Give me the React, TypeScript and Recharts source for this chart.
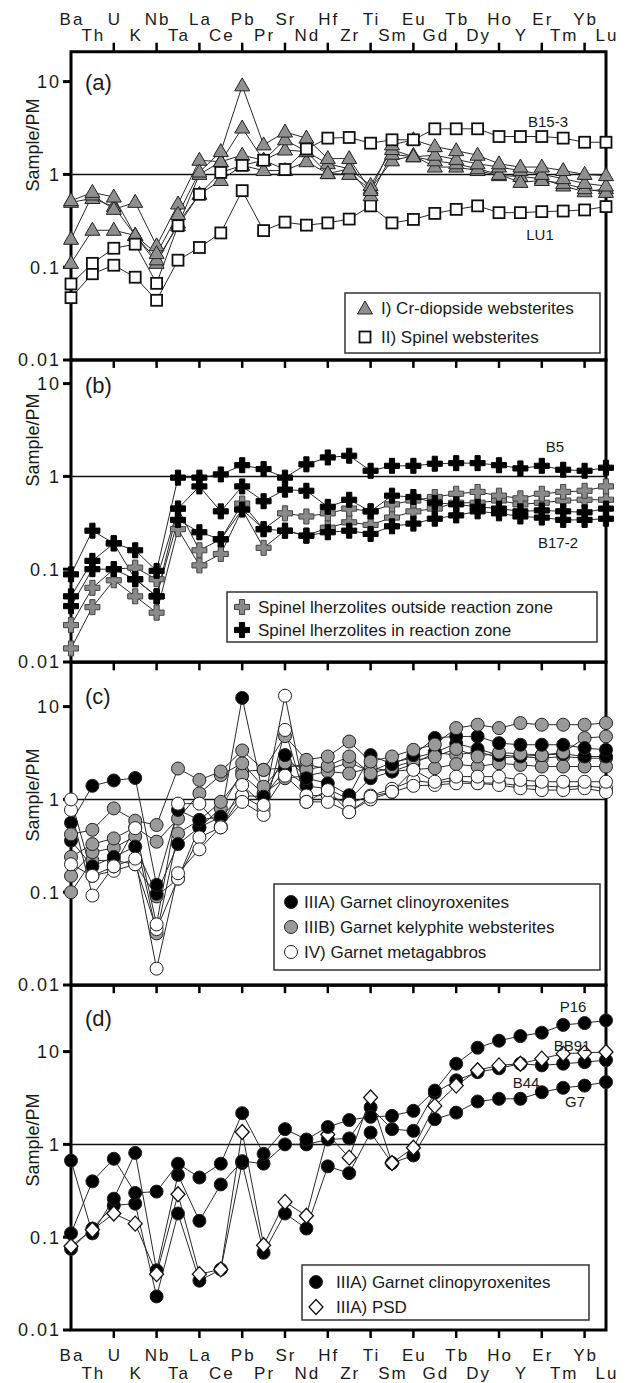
import React from 'react';
import { LineChart, Line, XAxis, YAxis, ReferenceLine, ReferenceArea } from 'recharts';

const W = 625;
const H = 1383;
const FONT = '"Liberation Sans", Arial, Helvetica, sans-serif';
const INK = '#1a1a1a';

const elements = ['Ba', 'Th', 'U', 'K', 'Nb', 'Ta', 'La', 'Ce', 'Pb', 'Pr', 'Sr', 'Nd', 'Hf', 'Zr', 'Ti', 'Sm', 'Eu', 'Gd', 'Tb', 'Dy', 'Ho', 'Y', 'Er', 'Tm', 'Yb', 'Lu'];
const yTicks = [0.01, 0.1, 1, 10];

// (a) I) Cr-diopside websterites
const aCrDi1 = [0.52, 0.64, 0.57, 0.22, 0.14, 0.37, 1.06, 1.76, 9.0, 2.08, 2.86, 2.46, 1.48, 1.48, 0.67, 2.08, 2.36, 1.99, 1.8, 1.61, 1.3, 1.2, 1.2, 1.1, 1.0, 0.97];
const aCrDi2 = [0.2, 0.6, 0.42, 0.5, 0.17, 0.48, 1.42, 1.37, 3.16, 1.42, 2.36, 1.76, 1.02, 1.15, 0.76, 1.85, 1.55, 1.61, 1.45, 1.3, 1.2, 1.1, 1.0, 0.9, 0.8, 0.75];
const aCrDi3 = [0.11, 0.25, 0.25, 0.22, 0.12, 0.28, 1.0, 1.37, 1.61, 1.42, 1.83, 1.76, 1.3, 1.15, 0.59, 1.65, 1.55, 1.4, 1.3, 1.15, 1.0, 0.82, 0.86, 0.8, 0.7, 0.64];
const aCrDi4 = [0.5, 0.55, 0.45, 0.22, 0.11, 0.3, 0.61, 0.86, 1.25, 1.1, 1.1, 1.37, 1.02, 1.0, 0.7, 1.4, 1.6, 1.2, 1.2, 1.1, 0.97, 0.95, 0.9, 0.75, 0.65, 0.7];
// (a) II) Spinel websterites
const aB153 = [0.066, 0.11, 0.16, 0.177, 0.067, 0.28, 0.61, 1.05, 1.25, 1.42, 1.13, 1.88, 2.46, 2.5, 2.17, 2.36, 2.36, 3.1, 3.1, 3.1, 2.56, 2.56, 2.56, 2.46, 2.22, 2.22];
const aLU1 = [0.047, 0.085, 0.105, 0.078, 0.044, 0.119, 0.163, 0.234, 0.668, 0.248, 0.306, 0.284, 0.3, 0.33, 0.458, 0.3, 0.327, 0.38, 0.42, 0.458, 0.387, 0.387, 0.397, 0.403, 0.414, 0.45];

// (b) spinel lherzolites outside reaction zone
const bOut1 = [0.025, 0.063, 0.1, 0.104, 0.078, 0.45, 0.16, 0.21, 0.51, 0.27, 0.4, 0.37, 0.4, 0.45, 0.42, 0.5, 0.55, 0.6, 0.65, 0.68, 0.62, 0.58, 0.65, 0.68, 0.7, 0.78];
const bOut2 = [0.014, 0.039, 0.076, 0.051, 0.034, 0.27, 0.11, 0.146, 0.44, 0.17, 0.26, 0.23, 0.28, 0.32, 0.3, 0.36, 0.42, 0.45, 0.52, 0.52, 0.55, 0.5, 0.52, 0.55, 0.56, 0.56];
// (b) spinel lherzolites in reaction zone
const bB5 = [0.088, 0.26, 0.19, 0.16, 0.096, 0.97, 0.97, 1.05, 1.32, 1.2, 0.97, 1.35, 1.6, 1.67, 1.15, 1.3, 1.3, 1.37, 1.39, 1.39, 1.32, 1.22, 1.3, 1.18, 1.15, 1.24];
const bIn2 = [0.051, 0.123, 0.19, 0.078, 0.051, 0.45, 0.78, 0.42, 0.78, 0.54, 0.72, 0.7, 0.47, 0.56, 0.42, 0.62, 0.6, 0.52, 0.5, 0.47, 0.45, 0.42, 0.43, 0.42, 0.41, 0.45];
const bB172 = [0.04, 0.1, 0.1, 0.078, 0.051, 0.34, 0.25, 0.21, 0.44, 0.27, 0.26, 0.23, 0.25, 0.26, 0.24, 0.29, 0.31, 0.35, 0.38, 0.42, 0.4, 0.37, 0.36, 0.34, 0.34, 0.35];

// (c) IIIA garnet clinopyroxenites
const cA1 = [0.56, 1.4, 1.6, 1.7, 0.12, 0.77, 0.6, 0.65, 12.4, 1.07, 3.0, 1.69, 1.49, 1.11, 3.0, 2.4, 3.0, 4.6, 4.77, 4.77, 4.04, 3.88, 3.88, 3.88, 3.57, 3.42];
const cA2 = [0.36, 0.19, 0.24, 0.31, 0.096, 0.33, 0.5, 0.65, 1.1, 1.07, 2.08, 1.4, 1.3, 1.0, 1.69, 2.0, 2.4, 3.2, 4.0, 3.5, 3.0, 2.9, 3.0, 3.1, 2.9, 2.9];
// (c) IIIB garnet kelyphite websterites
const cB1 = [0.42, 0.47, 0.8, 0.59, 0.53, 2.15, 1.62, 2.0, 3.37, 2.08, 4.8, 2.67, 2.9, 4.2, 2.56, 2.9, 3.42, 3.9, 5.87, 6.38, 5.87, 6.65, 6.38, 6.38, 6.38, 6.65];
const cB2 = [0.24, 0.33, 0.38, 0.5, 0.35, 0.62, 1.16, 1.83, 2.45, 1.37, 2.5, 2.1, 2.3, 2.9, 1.91, 2.2, 2.6, 2.9, 3.5, 2.9, 3.2, 3.1, 3.0, 3.2, 4.58, 4.77];
const cB3 = [0.15, 0.27, 0.3, 0.4, 0.036, 0.43, 0.6, 0.94, 1.83, 1.16, 1.69, 1.8, 2.0, 1.9, 2.2, 2.0, 2.1, 2.17, 2.4, 2.26, 2.45, 2.35, 2.26, 2.26, 2.26, 2.26];
const cB4 = [0.1, 0.22, 0.22, 0.2, 0.09, 0.14, 0.5, 0.8, 2.0, 2.08, 2.2, 2.4, 2.1, 2.5, 2.0, 2.5, 2.8, 3.2, 3.0, 3.3, 2.8, 2.9, 2.78, 2.9, 2.78, 2.78];
// (c) IV garnet metagabbros
const cC1 = [1.0, 0.15, 0.19, 0.49, 0.045, 0.9, 0.9, 0.5, 1.43, 0.87, 13.1, 0.94, 1.26, 0.73, 1.07, 1.21, 2.08, 1.55, 1.76, 1.76, 1.76, 1.62, 1.55, 1.55, 1.55, 1.55];
const cC2 = [0.77, 0.092, 0.19, 0.23, 0.015, 0.16, 0.29, 0.51, 0.94, 0.68, 5.6, 0.94, 0.94, 0.73, 1.0, 1.2, 1.4, 1.43, 1.49, 1.49, 1.43, 1.32, 1.26, 1.26, 1.32, 1.2];
const cC3 = [0.2, 0.15, 0.17, 0.2, 0.04, 0.14, 0.39, 0.5, 1.1, 0.8, 1.8, 1.1, 1.1, 0.9, 1.1, 1.3, 1.6, 1.5, 1.6, 1.5, 1.5, 1.4, 1.4, 1.35, 1.4, 1.32];

// (d) IIIA garnet clinopyroxenites
const dP16 = [0.11, 0.4, 0.7, 0.3, 0.31, 0.62, 0.44, 0.62, 2.17, 0.79, 1.46, 1.13, 1.54, 1.83, 1.98, 2.03, 2.3, 3.8, 7.4, 11.0, 13.1, 14.7, 16.0, 19.4, 20.3, 21.7];
const dB44 = [0.67, 0.11, 0.26, 0.81, 0.044, 0.47, 0.15, 0.37, 0.66, 0.62, 1.0, 1.0, 1.13, 1.16, 2.5, 1.46, 1.4, 3.6, 4.9, 6.0, 6.6, 7.4, 7.1, 7.4, 7.7, 8.1];
const dG7 = [0.075, 0.124, 0.22, 0.23, 0.023, 0.18, 0.034, 0.045, 0.63, 0.068, 0.18, 0.124, 0.58, 0.49, 1.34, 0.63, 0.76, 1.87, 2.2, 2.9, 3.1, 3.1, 3.65, 4.07, 4.3, 4.7];
// (d) IIIA PSD
const dBB91 = [0.08, 0.12, 0.18, 0.14, 0.04, 0.29, 0.04, 0.045, 1.36, 0.082, 0.24, 0.17, 1.28, 0.72, 3.2, 0.63, 0.92, 2.6, 4.3, 6.3, 7.1, 7.4, 8.4, 9.5, 9.7, 9.9];

type Kind = 'tri' | 'sq' | 'plus' | 'circ' | 'dia';
type Series = { key: string; values: number[]; kind: Kind; fill: string };
type Panel = { id: string; bottom: number; yMax: number; series: Series[] };

const DECADE = 92.8;
const topOf = (p: Panel) => p.bottom - DECADE * Math.log10(p.yMax / 0.01);

const GRAY_TRI = '#8f8f8f';
const GRAY_PLUS = '#8a8a8a';
const GRAY_CIRC = '#9a9a9a';

const panels: Panel[] = [
  {
    id: 'a', bottom: 360, yMax: 21,
    series: [
      { key: 'aLU1', values: aLU1, kind: 'sq', fill: '#fff' },
      { key: 'aCrDi4', values: aCrDi4, kind: 'tri', fill: GRAY_TRI },
      { key: 'aCrDi3', values: aCrDi3, kind: 'tri', fill: GRAY_TRI },
      { key: 'aCrDi2', values: aCrDi2, kind: 'tri', fill: GRAY_TRI },
      { key: 'aCrDi1', values: aCrDi1, kind: 'tri', fill: GRAY_TRI },
      { key: 'aB153', values: aB153, kind: 'sq', fill: '#fff' },
    ],
  },
  {
    id: 'b', bottom: 662, yMax: 18,
    series: [
      { key: 'bOut2', values: bOut2, kind: 'plus', fill: GRAY_PLUS },
      { key: 'bOut1', values: bOut1, kind: 'plus', fill: GRAY_PLUS },
      { key: 'bB172', values: bB172, kind: 'plus', fill: '#000' },
      { key: 'bIn2', values: bIn2, kind: 'plus', fill: '#000' },
      { key: 'bB5', values: bB5, kind: 'plus', fill: '#000' },
    ],
  },
  {
    id: 'c', bottom: 985, yMax: 30,
    series: [
      { key: 'cB4', values: cB4, kind: 'circ', fill: GRAY_CIRC },
      { key: 'cB3', values: cB3, kind: 'circ', fill: GRAY_CIRC },
      { key: 'cA2', values: cA2, kind: 'circ', fill: '#000' },
      { key: 'cB2', values: cB2, kind: 'circ', fill: GRAY_CIRC },
      { key: 'cA1', values: cA1, kind: 'circ', fill: '#000' },
      { key: 'cB1', values: cB1, kind: 'circ', fill: GRAY_CIRC },
      { key: 'cC3', values: cC3, kind: 'circ', fill: '#fff' },
      { key: 'cC2', values: cC2, kind: 'circ', fill: '#fff' },
      { key: 'cC1', values: cC1, kind: 'circ', fill: '#fff' },
    ],
  },
  {
    id: 'd', bottom: 1330, yMax: 52,
    series: [
      { key: 'dG7', values: dG7, kind: 'circ', fill: '#000' },
      { key: 'dB44', values: dB44, kind: 'circ', fill: '#000' },
      { key: 'dBB91', values: dBB91, kind: 'dia', fill: '#fff' },
      { key: 'dP16', values: dP16, kind: 'circ', fill: '#000' },
    ],
  },
];

const Marker = ({ kind, cx, cy, fill }: { kind: Kind; cx: number; cy: number; fill: string }) => {
  if (kind === 'tri') {
    return <polygon points={`${cx},${cy - 8} ${cx - 7.5},${cy + 5} ${cx + 7.5},${cy + 5}`} fill={fill} stroke="#222" strokeWidth={1} />;
  }
  if (kind === 'sq') {
    return <rect x={cx - 5.5} y={cy - 5.5} width={11} height={11} fill={fill} stroke="#111" strokeWidth={1.8} />;
  }
  if (kind === 'plus') {
    const a = 2.6;
    const b = 7.5;
    const d = `M${cx - a},${cy - b}H${cx + a}V${cy - a}H${cx + b}V${cy + a}H${cx + a}V${cy + b}H${cx - a}V${cy + a}H${cx - b}V${cy - a}H${cx - a}Z`;
    return <path d={d} fill={fill} stroke={fill === '#000' ? '#000' : '#444'} strokeWidth={1} />;
  }
  if (kind === 'dia') {
    return <polygon points={`${cx},${cy - 7.5} ${cx + 7},${cy} ${cx},${cy + 7.5} ${cx - 7},${cy}`} fill={fill} stroke="#111" strokeWidth={1.3} />;
  }
  return <circle cx={cx} cy={cy} r={6.5} fill={fill} stroke="#222" strokeWidth={1} />;
};

const makeDot = (s: Series) => (props: any) => {
  const { cx, cy, index } = props;
  if (cx == null || cy == null) return <g key={`${s.key}-${index}`} />;
  return <Marker key={`${s.key}-${index}`} kind={s.kind} cx={cx} cy={cy} fill={s.fill} />;
};

const labelStyle = { fontFamily: FONT, fontSize: 17, fill: INK, letterSpacing: 2 } as const;

const makeXTick = (p: Panel) => (props: any) => {
  const { x, payload } = props;
  const i = payload.value as number;
  const top = topOf(p);
  const even = i % 2 === 0;
  const inner = even && i > 0 && i < 25;
  const out: React.ReactNode[] = [];
  if (p.id === 'a') {
    if (inner) out.push(<line key="tk" x1={x} x2={x} y1={top} y2={top - 9} stroke="#000" strokeWidth={2.5} />);
    out.push(<text key="lb" x={x + 1} y={even ? 25 : 41} textAnchor="middle" style={labelStyle}>{elements[i]}</text>);
  } else if (inner) {
    out.push(<line key="tk" x1={x} x2={x} y1={top} y2={top + 8} stroke="#000" strokeWidth={2.5} />);
  }
  if (p.id === 'd') {
    if (inner) out.push(<line key="bt" x1={x} x2={x} y1={p.bottom} y2={p.bottom + 8} stroke="#000" strokeWidth={2.5} />);
    out.push(<text key="bl" x={x + 1} y={even ? 1361 : 1379} textAnchor="middle" style={labelStyle}>{elements[i]}</text>);
  }
  return <g key={`x${i}`}>{out}</g>;
};

const YTick = (props: any) => {
  const { y, payload } = props;
  return (
    <text x={61} y={y} dy="0.36em" textAnchor="end" style={{ fontFamily: FONT, fontSize: 18, fill: INK, letterSpacing: 2 }}>
      {String(payload.value)}
    </text>
  );
};

const xTicks = elements.map((_, i) => i);

const PanelChart = ({ p }: { p: Panel }) => {
  const top = topOf(p);
  const data = elements.map((el, i) => {
    const row: Record<string, number | string> = { i, el };
    p.series.forEach((s) => { row[s.key] = s.values[i]; });
    return row;
  });
  return (
    <div style={{ position: 'absolute', left: 0, top: 0 }}>
      <LineChart width={W} height={H} data={data} margin={{ top: top - 30, right: 19, bottom: H - p.bottom, left: 0 }}>
        <XAxis
          xAxisId="t"
          orientation="top"
          type="number"
          dataKey="i"
          domain={[0, 25]}
          ticks={xTicks}
          interval={0}
          height={30}
          axisLine={false}
          tickLine={false}
          tick={makeXTick(p)}
        />
        <YAxis
          scale="log"
          domain={[0.01, p.yMax]}
          ticks={yTicks}
          width={71}
          axisLine={false}
          tickLine={{ stroke: '#000', strokeWidth: 3 }}
          tickSize={8}
          tick={<YTick />}
        />
        <ReferenceLine xAxisId="t" y={1} stroke="#111" strokeWidth={1.5} />
        <ReferenceArea xAxisId="t" x1={0} x2={25} y1={0.01} y2={p.yMax} fill="none" stroke="#000" strokeWidth={3} />
        {p.series.map((s) => (
          <Line
            key={s.key}
            xAxisId="t"
            dataKey={s.key}
            stroke="#2a2a2a"
            strokeWidth={1}
            dot={makeDot(s)}
            activeDot={false}
            isAnimationActive={false}
          />
        ))}
      </LineChart>
    </div>
  );
};

const legendText = { fontFamily: FONT, fontSize: 17, fill: INK } as const;
const noteText = { fontFamily: FONT, fontSize: 15, fill: INK } as const;

const Overlay = () => (
  <svg width={W} height={H} style={{ position: 'absolute', left: 0, top: 0, pointerEvents: 'none' }}>
    {[145, 440, 795, 1140].map((cy, k) => (
      <text key={k} transform={`translate(33,${cy}) rotate(-90)`} textAnchor="middle" dy="0.35em" style={{ fontFamily: FONT, fontSize: 18, fill: INK }}>
        Sample/PM
      </text>
    ))}
    {[['(a)', 82], ['(b)', 385], ['(c)', 696], ['(d)', 1018]].map(([t, y]) => (
      <text key={t as string} x={85} y={y as number} dy="0.35em" style={{ fontFamily: FONT, fontSize: 22, fill: INK }}>{t}</text>
    ))}

    <text x={548} y={122} dy="0.35em" textAnchor="middle" style={noteText}>B15-3</text>
    <text x={540} y={235} dy="0.35em" textAnchor="middle" style={noteText}>LU1</text>
    <text x={555} y={447} dy="0.35em" textAnchor="middle" style={noteText}>B5</text>
    <text x={558} y={543} dy="0.35em" textAnchor="middle" style={noteText}>B17-2</text>
    <text x={573} y={1007} dy="0.35em" textAnchor="middle" style={noteText}>P16</text>
    <text x={572} y={1046} dy="0.35em" textAnchor="middle" style={noteText}>BB91</text>
    <text x={526} y={1083} dy="0.35em" textAnchor="middle" style={noteText}>B44</text>
    <text x={575} y={1102} dy="0.35em" textAnchor="middle" style={noteText}>G7</text>

    <rect x={345} y={293} width={255} height={60} fill="#fff" stroke="#333" strokeWidth={1.5} />
    <Marker kind="tri" cx={365} cy={309} fill={GRAY_TRI} />
    <text x={381} y={308} dy="0.35em" style={legendText}>I) Cr-diopside websterites</text>
    <Marker kind="sq" cx={365} cy={337} fill="#fff" />
    <text x={381} y={337} dy="0.35em" style={legendText}>II) Spinel websterites</text>

    <rect x={227} y={592} width={370} height={50} fill="#fff" stroke="#333" strokeWidth={1.5} />
    <Marker kind="plus" cx={242} cy={607} fill={GRAY_PLUS} />
    <text x={258} y={607} dy="0.35em" style={legendText}>Spinel lherzolites outside reaction zone</text>
    <Marker kind="plus" cx={242} cy={630} fill="#000" />
    <text x={258} y={630} dy="0.35em" style={legendText}>Spinel lherzolites in reaction zone</text>

    <rect x={274} y={884} width={326} height={86} fill="#fff" stroke="#333" strokeWidth={1.5} />
    <Marker kind="circ" cx={291} cy={902} fill="#000" />
    <text x={304} y={902} dy="0.35em" style={legendText}>IIIA) Garnet clinoyroxenites</text>
    <Marker kind="circ" cx={291} cy={927} fill={GRAY_CIRC} />
    <text x={304} y={927} dy="0.35em" style={legendText}>IIIB) Garnet kelyphite websterites</text>
    <Marker kind="circ" cx={291} cy={952} fill="#fff" />
    <text x={304} y={952} dy="0.35em" style={legendText}>IV) Garnet metagabbros</text>

    <rect x={302} y={1265} width={287} height={55} fill="#fff" stroke="#333" strokeWidth={1.5} />
    <Marker kind="circ" cx={316} cy={1282} fill="#000" />
    <text x={336} y={1282} dy="0.35em" style={legendText}>IIIA) Garnet clinopyroxenites</text>
    <Marker kind="dia" cx={316} cy={1307} fill="#fff" />
    <text x={336} y={1307} dy="0.35em" style={legendText}>IIIA) PSD</text>
  </svg>
);

export default function App() {
  return (
    <div style={{ position: 'absolute', left: 0, top: 0, width: W, height: H, background: '#fff' }}>
      {panels.map((p) => (
        <PanelChart key={p.id} p={p} />
      ))}
      <Overlay />
    </div>
  );
}
